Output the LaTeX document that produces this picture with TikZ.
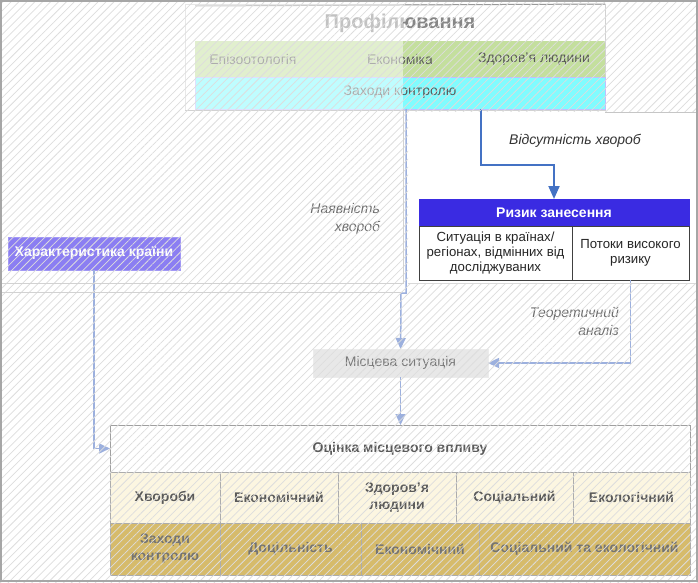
\documentclass[tikz,border=0pt]{standalone}
\usepackage{fontspec}
\setmainfont{Liberation Sans}
\usetikzlibrary{arrows.meta, positioning, patterns.meta}

\definecolor{hatchgray}{HTML}{DDDDDD}
\definecolor{linkblue}{HTML}{9CB0DE}
\definecolor{riskblue}{HTML}{4472C4}
\definecolor{riskhead}{HTML}{3A2BE2}
\definecolor{countryviolet}{HTML}{8B7EF2}
\definecolor{bandgreen}{HTML}{C4DF9E}
\definecolor{bandcyan}{HTML}{80FCFF}
\definecolor{cellcream}{HTML}{FCF6E1}
\definecolor{celltan}{HTML}{D6BB6B}
\definecolor{textgray}{HTML}{5A5A5A}

\begin{document}
\begin{tikzpicture}[x=1pt, y=-1pt, font=\fontsize{12}{14}\selectfont,
        every node/.style={outer sep=0pt, inner sep=2pt},
        panel/.style={rectangle, draw=gray!35, fill=white, anchor=north west},
        band/.style={rectangle, fill=#1, minimum width=410, anchor=north west},
        bandtext/.style={text=textgray, font=\fontsize{14}{16}\selectfont},
        block/.style={rectangle, draw=#1, text centered, align=center, anchor=north west},
        cell/.style={rectangle, draw=gray!65, fill=cellcream, minimum width=#1, minimum height=51,
            align=center, text=textgray, font=\fontsize{14}{17}\selectfont\bfseries},
        tancell/.style={cell=#1, fill=celltan, minimum height=52, text=gray!90!black},
        note/.style={font=\fontsize{14}{18}\selectfont\itshape, text=gray!85!black, align=right, anchor=east},
        line/.style={draw=linkblue, line width=1.5pt, -{Triangle[length=11pt, width=10pt]}},
        riskline/.style={draw=riskblue, line width=2pt, -{Triangle[length=13pt, width=11pt]}}]

        \useasboundingbox (0,0) rectangle (698,583);
        \fill[white] (0,0) rectangle (698,583);

        % profiling panel
        \node [panel, minimum width=420, minimum height=106] (profile) at (185,4) {};
        \draw [gray!80, line width=1pt] (195,6) -- (profile.north east);
        \node [text=gray!95, font=\fontsize{20}{23}\selectfont\bfseries] (ptitle) at (400,23) {Профілювання};
        \node [band=bandgreen, minimum height=36] (factors) at (195,41) {};
        \node [band=bandcyan, minimum height=32, draw=blue!25] (ctrl) at (195,77) {};
        \node [bandtext] (epi) at (253,59) {Епізоотологія};
        \node [bandtext] (econ) at (400,59) {Економіка};
        \node [bandtext] (human) at (534,59) {Здоров'я людини};
        \node [bandtext] (ctrltext) at (400,92) {Заходи контролю};
        \fill [white, opacity=0.5] (profile.north west) rectangle (403,110);

        % import risk
        \node [block=riskhead, fill=riskhead, text=white, font=\fontsize{14}{16}\selectfont\bfseries,
            minimum width=270, minimum height=27] (risk) at (419,199) {Ризик занесення};
        \node [block=black!75, line width=1pt, fill=white, text=black!85, minimum width=153, minimum height=54,
            font=\fontsize{13.2}{15}\selectfont] (regions) at (risk.south west)
            {Ситуація в країнах/\\регіонах, відмінних від\\досліджуваних};
        \node [block=black!75, line width=1pt, fill=white, text=black!85, minimum width=117, minimum height=54,
            font=\fontsize{13.2}{15}\selectfont, right=0pt of regions] (flows) {Потоки високого\\ризику};

        \node [block=countryviolet!80, fill=countryviolet, text=white, font=\fontsize{14}{16}\selectfont\bfseries,
            minimum width=172, minimum height=33] (country) at (8,237) {Характеристика країни};
        \node [block=gray!15, fill=gray!18, text=gray!95!black, font=\fontsize{14}{16}\selectfont,
            minimum width=175, minimum height=28] (local) at (313,349) {Місцева ситуація};

        % local impact
        \node [block=gray!75, fill=white, text=textgray, font=\fontsize{14}{16}\selectfont\bfseries,
            minimum width=580, minimum height=47] (impact) at (110,425) {Оцінка місцевого впливу};
        \node [cell=110, anchor=north west] (dis) at (impact.south west) {Хвороби};
        \node [cell=118, right=0pt of dis] (ecoA) {Економічний};
        \node [cell=118, right=0pt of ecoA] (health) {Здоров'я\\людини};
        \node [cell=117, right=0pt of health] (socA) {Соціальний};
        \node [cell=117, right=0pt of socA] (envA) {Екологічний};
        \node [tancell=110, anchor=north west] (measures) at (dis.south west) {Заходи\\контролю};
        \node [tancell=141, right=0pt of measures] (fit) {Доцільність};
        \node [tancell=118, right=0pt of fit] (ecoB) {Економічний};
        \node [tancell=211, right=0pt of ecoB] (socB) {Соціальний та екологічний};

        % connectors
        \coordinate (turn) at (481,165);
        \coordinate (jog) at (406,293);
        \path [riskline] (ctrl.south -| turn) -- (turn) -| (risk.north);
        \node [font=\fontsize{14}{17}\selectfont\itshape, text=black!80] (absent) at (575,141) {Відсутність хвороб};
        \path [line] (ctrl.south -| jog) -- (jog) -- ++(-5,0) -- (local);
        \node [note] (present) at (382,219) {Наявність\\хвороб};
        \path [line] (flows.south) |- (local.east);
        \node [note] (theory) at (621,321) {Теоретичний\\аналіз};
        \path [line] (local.south) -- (local.south |- impact.north);
        \path [line] (country.south) |- (impact.west);

        % hatched cover, clear around the risk block
        \fill [pattern={Lines[angle=45, distance=5.6pt, line width=0.75pt]}, pattern color=hatchgray, even odd rule]
            (0,0) rectangle (698,583) (408,112) rectangle (697,283);
        \draw [gray!35] (0,283) -- (403,283) -- (403,110);
        \draw [gray!35] (0,292) -- (401,292);
        \draw [gray!45] (605,112) -- (697,112);
        \draw [gray!30] (408,283) -- (697,283);
        \draw [gray!70, line width=1.5pt] (1,1) rectangle (697,581);
\end{tikzpicture}
\end{document}
